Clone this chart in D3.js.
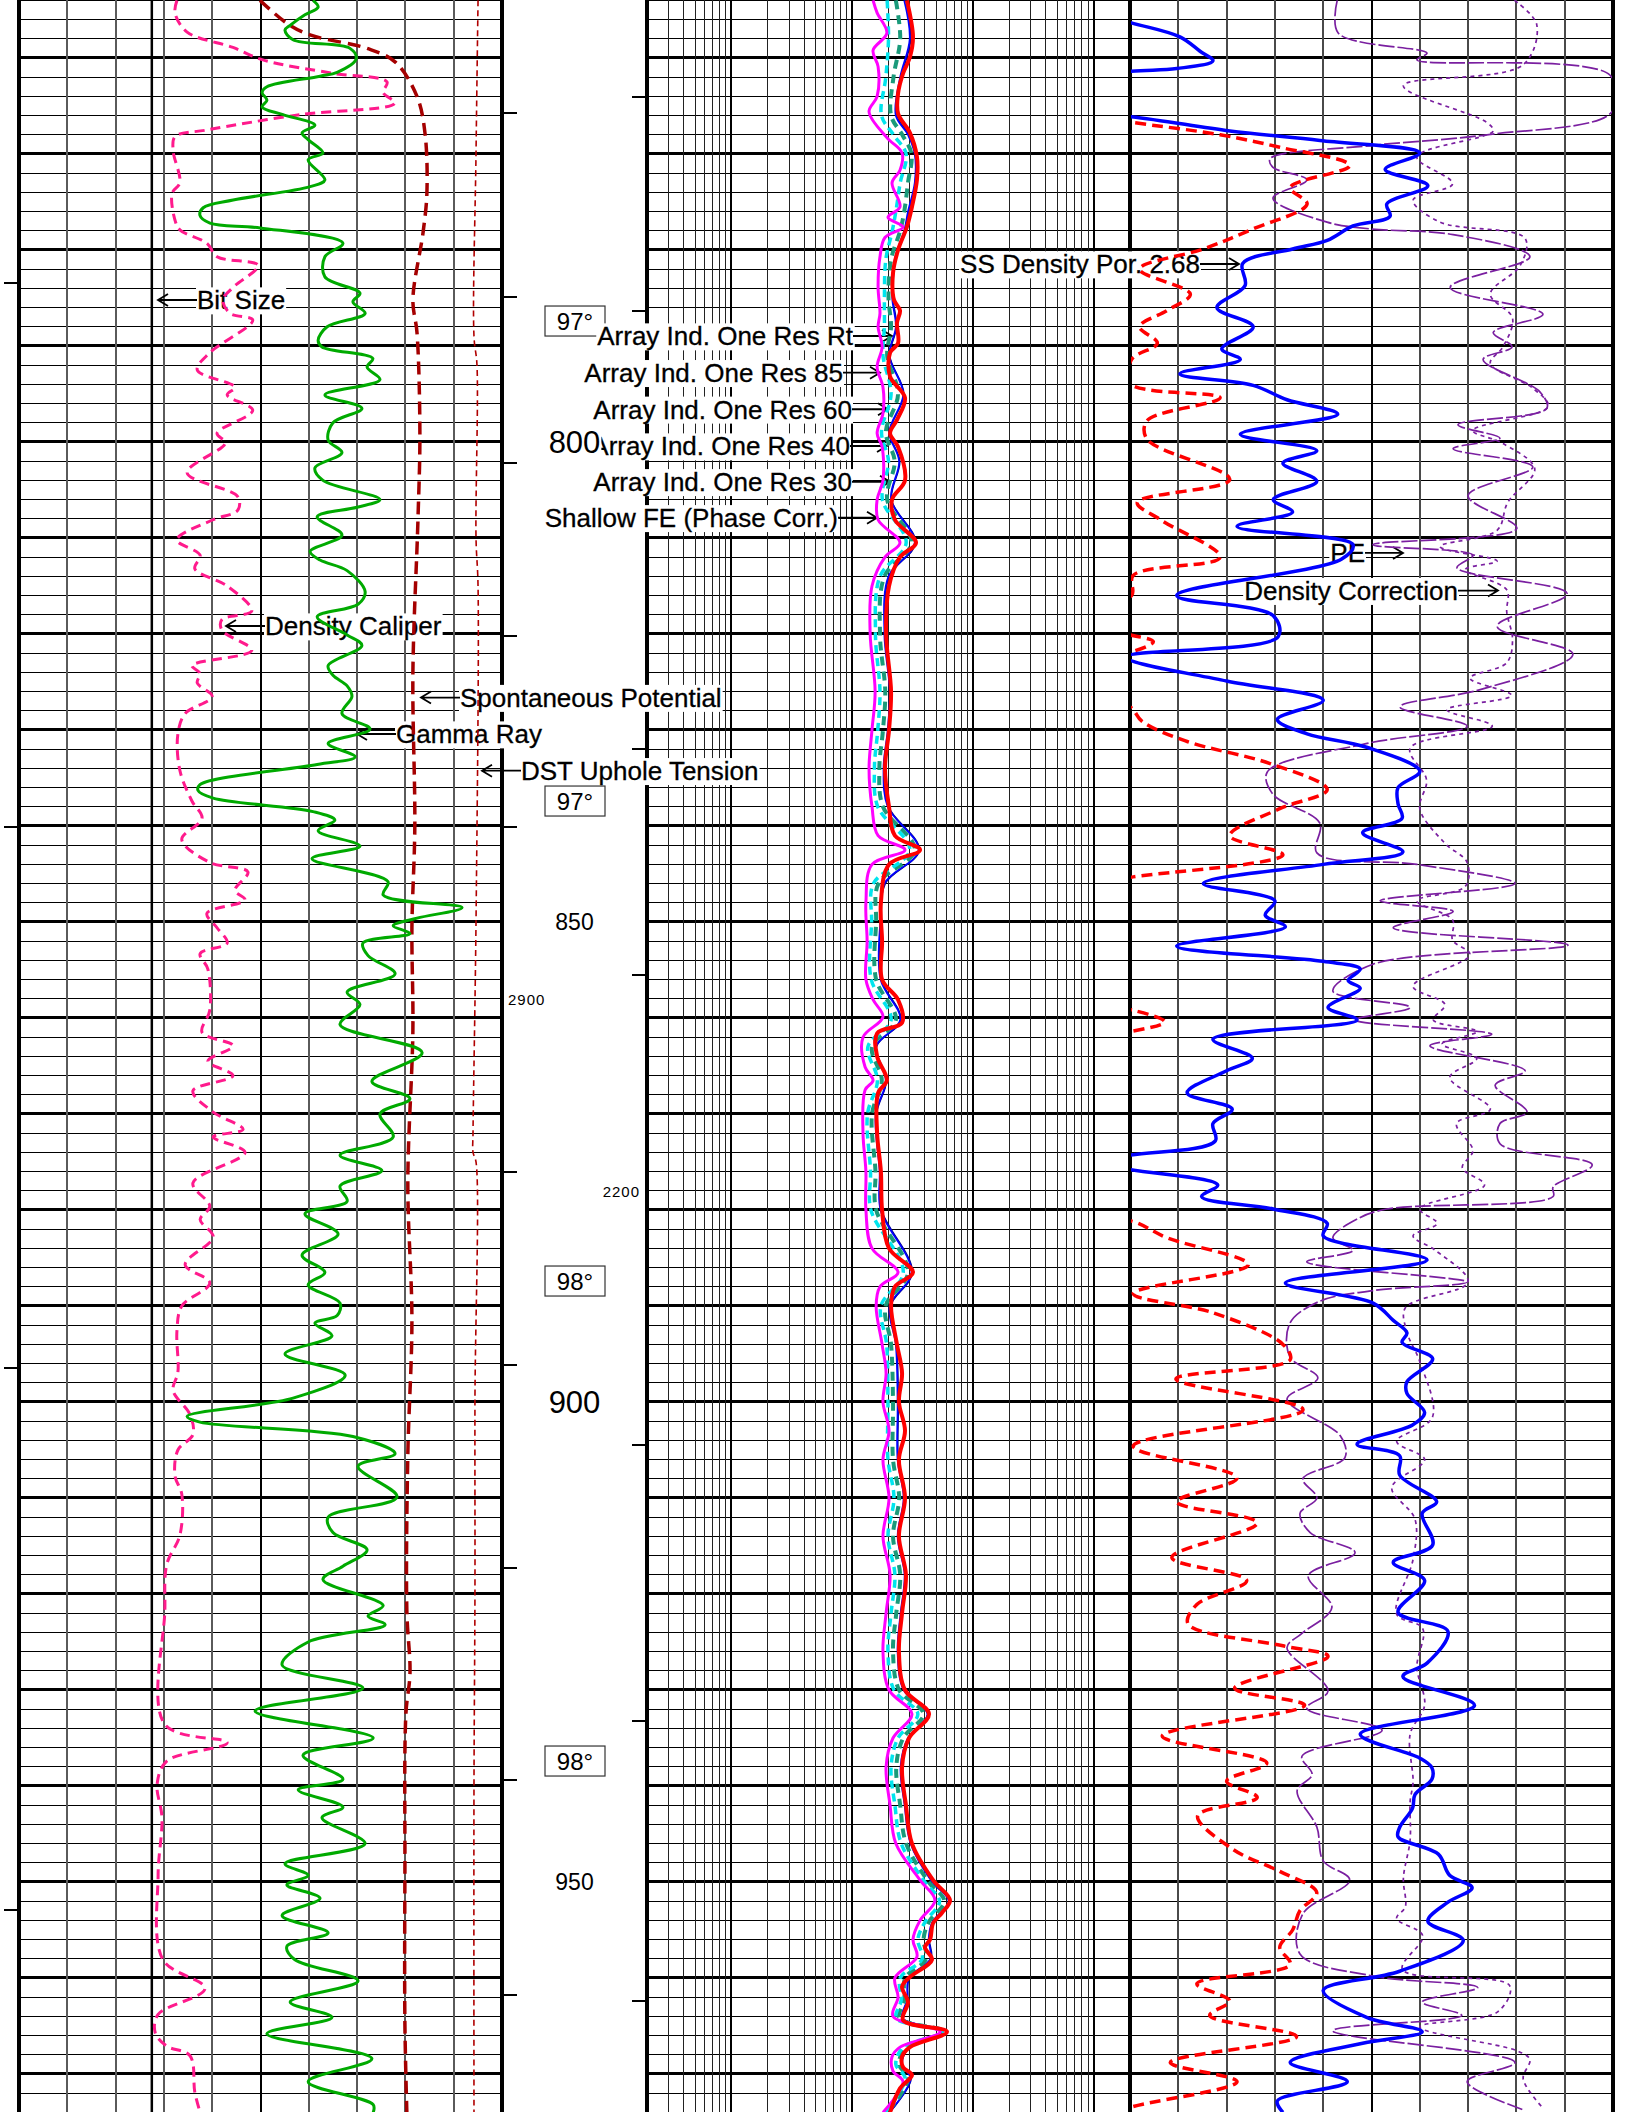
<!DOCTYPE html>
<html>
<head>
<meta charset="utf-8">
<script src="https://cdn.jsdelivr.net/npm/d3@7/dist/d3.min.js"></script>
<style>
  body { margin: 0; background: #fff; }
  text { font-family: "Liberation Sans", Arial, sans-serif; fill: #000; }
</style>
</head>
<body>
<div id="log"></div>
<script>
// depth (ft) / value pairs
const gammaRay = [[754.0,91.3],[754.7,92.9],[755.5,88.8],[756.6,84.2],[757.1,82.6],[758.1,85.1],[759.0,102.8],[760.1,104.7],[761.5,98.8],[761.9,93.5],[763.0,77.0],[763.6,75.5],[764.4,77.0],[765.1,75.5],[765.9,82.0],[767.0,91.9],[767.8,87.9],[768.5,89.8],[769.9,94.4],[770.6,89.8],[772.7,95.0],[773.4,90.4],[774.8,66.5],[775.6,57.2],[776.4,56.2],[777.2,59.3],[777.7,74.9],[779.3,100.6],[780.7,95.0],[782.8,95.0],[784.5,105.9],[785.4,103.7],[786.6,107.5],[788.0,95.7],[789.4,92.9],[790.1,94.1],[791.3,109.9],[792.2,108.1],[793.5,112.1],[795.1,95.0],[796.5,106.5],[798.0,97.5],[799.8,96.0],[801.1,100.3],[802.7,91.9],[804.0,94.4],[806.0,112.1],[806.8,105.0],[807.8,92.6],[809.7,100.3],[811.4,90.4],[812.3,93.5],[813.4,101.9],[815.6,107.5],[816.9,105.3],[818.2,92.6],[820.1,101.9],[821.2,106.5],[823.3,96.0],[824.3,97.5],[825.4,101.9],[826.5,103.4],[828.3,100.3],[829.9,109.0],[831.4,96.0],[832.8,104.4],[833.6,92.6],[835.7,56.2],[836.3,55.6],[837.1,60.3],[838.5,91.3],[839.4,98.1],[840.5,92.9],[842.1,105.9],[843.4,91.0],[845.8,114.6],[847.2,113.1],[848.5,137.6],[849.6,123.6],[850.4,116.2],[851.2,121.4],[852.2,106.8],[853.5,108.4],[855.4,116.8],[857.3,101.9],[858.6,105.9],[860.7,99.7],[863.6,125.2],[866.6,109.6],[868.4,121.4],[870.0,112.1],[872.4,116.2],[874.3,99.7],[875.9,112.7],[877.5,99.7],[879.1,101.9],[880.4,88.8],[882.5,99.1],[884.7,87.9],[886.5,95.0],[887.8,89.8],[889.7,99.7],[891.0,98.8],[891.8,91.9],[893.1,97.2],[895.0,82.6],[897.2,101.3],[899.6,85.1],[901.5,52.2],[902.1,56.2],[903.6,103.7],[905.4,116.8],[906.7,105.3],[909.9,117.4],[912.0,96.0],[913.6,97.5],[915.4,108.1],[917.1,100.6],[918.5,94.4],[921.2,113.1],[922.3,108.4],[923.2,113.7],[925.0,89.8],[927.4,81.7],[929.8,106.8],[932.2,73.3],[935.0,110.0],[936.8,88.2],[939.3,100.6],[940.4,86.7],[942.2,100.6],[943.3,94.1],[946.0,107.5],[948.1,82.6],[949.3,89.8],[950.3,83.2],[951.7,93.5],[953.5,81.7],[955.3,96.0],[956.7,83.2],[958.1,85.7],[960.3,105.3],[962.5,84.2],[964.1,97.2],[965.8,77.0],[968.4,109.6],[970.8,89.8],[973.2,110.0],[974.0,110.0]]

const caliper = [[754.0,9.27],[755.3,9.23],[757.3,9.48],[758.9,10.43],[760.2,11.05],[761.6,12.50],[762.5,13.62],[763.6,13.54],[764.7,13.78],[765.9,11.82],[767.5,9.89],[768.2,9.23],[769.6,9.19],[773.0,9.33],[774.1,9.17],[776.9,9.23],[777.9,9.33],[779.3,9.89],[780.7,10.10],[781.6,10.95],[783.9,10.43],[785.2,10.22],[786.6,10.37],[787.3,10.84],[790.7,9.95],[792.5,9.69],[794.3,10.47],[795.1,10.31],[796.7,10.84],[799.1,10.10],[800.1,10.27],[803.2,9.48],[805.7,10.53],[807.1,10.53],[808.1,10.02],[810.2,9.27],[811.8,9.75],[813.2,9.64],[815.0,10.31],[817.6,10.82],[818.5,10.20],[819.6,10.20],[821.7,10.82],[823.3,9.58],[824.1,9.75],[825.1,9.69],[826.5,10.00],[828.3,9.44],[830.4,9.29],[834.2,9.33],[837.4,9.58],[839.2,9.79],[841.4,9.37],[843.8,9.95],[844.8,10.74],[846.7,10.47],[847.7,10.68],[849.1,9.89],[850.6,10.10],[852.2,10.31],[853.3,9.75],[854.9,9.91],[859.2,9.95],[861.5,9.79],[862.9,10.43],[864.5,9.91],[866.0,10.43],[867.6,9.60],[869.8,10.02],[871.6,10.64],[872.4,10.02],[874.0,10.68],[877.2,9.60],[879.6,9.95],[881.0,9.75],[882.8,10.02],[885.7,9.44],[887.6,9.95],[890.0,9.37],[892.6,9.27],[896.9,9.29],[898.8,9.19],[901.3,9.54],[903.4,9.60],[905.0,9.29],[907.7,9.23],[909.6,9.37],[913.9,9.33],[916.9,9.06],[921.7,9.02],[933.6,9.02],[935.5,10.31],[937.4,9.06],[939.8,8.86],[943.3,8.96],[949.3,8.88],[958.1,8.98],[961.1,9.85],[963.8,8.88],[965.7,8.82],[967.1,9.06],[968.1,9.54],[971.9,9.64],[974.0,9.75]]

const bitSize = [[754, 8.75], [974, 8.75]]

const spontPot = [[754.0,-100.2],[756.4,-89.0],[757.6,-79.5],[759.0,-55.9],[760.4,-44.3],[764.0,-35.2],[767.8,-31.9],[774.1,-31.1],[778.2,-32.7],[785.2,-36.9],[788.6,-35.2],[799.1,-34.0],[808.1,-34.8],[824.1,-36.9],[840.0,-36.1],[850.6,-37.3],[861.3,-36.9],[877.2,-39.0],[891.5,-37.3],[905.5,-39.0],[921.8,-39.4],[928.2,-38.1],[932.5,-39.8],[948.7,-40.2],[964.9,-40.2],[974.0,-39.4]]

const tension = [[754,4752],[770,4731],[789,4710],[792,4741],[810,4731],[815,4752],[850,4731],[872,4700],[874,4700],[875,4731],[900,4720],[920,4720],[940,4710],[974,4710]]

// resistivity, ohm-m
const resRt = [[754.0,28.4],[757.8,31.9],[759.9,30.1],[761.6,26.4],[763.7,24.0],[765.8,24.0],[767.8,30.1],[770.3,34.4],[772.7,34.4],[775.5,31.3],[777.6,28.4],[780.0,24.0],[782.4,21.8],[785.2,22.2],[786.3,24.9],[787.6,23.5],[789.7,24.0],[790.7,20.6],[793.2,20.6],[795.4,27.4],[797.7,23.5],[799.1,20.6],[800.5,24.0],[804.0,27.4],[806.0,21.4],[808.1,22.6],[810.5,33.8],[812.0,24.9],[815.0,20.2],[820.0,19.1],[826.0,21.0],[830.0,20.2],[834.0,18.7],[838.0,20.2],[841.0,22.6],[842.5,36.5],[844.0,20.2],[848.0,17.3],[852.0,17.7],[856.0,17.7],[858.1,24.0],[860.5,25.9],[861.6,16.1],[864.0,16.1],[866.5,19.4],[867.8,16.4],[872.0,16.1],[876.0,17.3],[880.0,17.7],[884.0,20.2],[886.5,31.9],[888.0,22.6],[890.0,21.0],[894.0,23.5],[897.0,25.9],[900.0,24.4],[903.0,27.4],[906.0,24.4],[910.0,27.4],[914.0,24.4],[918.0,27.9],[922.0,25.9],[926.0,24.4],[930.0,27.4],[932.5,43.3],[935.0,29.6],[938.0,25.9],[942.0,27.9],[946.0,31.3],[949.8,46.8],[951.9,64.6],[953.2,55.5],[954.3,46.8],[956.0,44.2],[956.8,40.1],[958.1,45.8],[959.9,30.1],[960.9,25.9],[962.5,29.0],[964.4,26.4],[965.6,61.0],[967.2,30.1],[968.2,25.9],[969.3,26.4],[970.1,31.3],[971.5,24.9],[974.0,20.6]]

const resShallowFE = [[754.0,14.9],[755.3,16.1],[757.4,19.4],[759.2,14.9],[760.9,16.4],[764.0,16.1],[765.6,13.8],[768.3,19.4],[769.9,25.9],[771.7,24.9],[773.0,21.4],[775.5,24.9],[776.6,19.8],[777.6,26.4],[778.7,18.7],[780.7,17.0],[783.9,16.4],[786.6,17.0],[788.0,16.4],[790.1,17.7],[792.2,16.1],[794.3,18.0],[797.0,18.0],[799.1,16.1],[800.5,17.7],[804.0,18.0],[806.0,16.1],[808.1,16.4],[810.5,24.9],[812.0,18.7],[815.0,14.6],[820.0,14.1],[826.0,15.5],[830.0,14.6],[834.0,13.8],[838.0,14.6],[841.0,16.4],[842.5,27.4],[844.0,14.6],[848.0,13.0],[852.0,13.3],[856.0,13.0],[858.1,14.9],[859.9,18.0],[862.0,12.3],[865.1,12.8],[866.5,14.9],[867.5,12.8],[872.0,12.3],[876.0,13.0],[880.0,13.0],[884.0,14.6],[886.5,24.0],[888.0,17.0],[890.0,15.8],[894.0,17.7],[897.0,19.1],[900.0,18.0],[903.0,20.2],[906.0,18.0],[910.0,20.2],[914.0,18.0],[918.0,20.6],[922.0,19.1],[926.0,18.0],[930.0,20.2],[932.5,31.3],[935.0,21.8],[938.0,19.1],[942.0,20.6],[946.0,23.0],[949.8,36.5],[951.9,48.5],[954.0,36.5],[956.0,31.9],[957.8,34.4],[960.0,22.6],[962.0,24.0],[964.0,21.8],[965.6,53.5],[967.2,24.9],[968.2,21.4],[969.7,21.8],[970.8,26.4],[974.0,18.0]]

const resDepths = [754,758,762,766,768,770,773,776,778,781,785,788,791,795,799,802,806,810.5,814,820,826,830,834,838,842.5,846,850,856,860.2,863,866.5,870,876,880,886.5,890,894,900,906,910,914,918,922,926,930,932.5,935,938,942,946,950,952,954.2,956,958,960,962.3,964.2,965.6,967.2,969,970.5,974]
const res30 = [19.5,20,19,17.5,22,28,25,23,21.5,19,18.5,18.5,18,21,17.5,20,17.8,28,17,15.6,17,16.3,15.3,16.3,30,15,14.5,14.4,21,13.5,16.2,13.4,14.2,14.3,26.5,17.3,19.3,19.8,19.8,22.2,19.8,22.6,21,19.8,22.2,35,24,21,22.6,25.5,40,53,40,35,38,25,25.5,23.2,56,26.5,23,27.5,18.8]
const res40 = [23,25,22,21,26,31,29,27,25,21,20,21,19.5,24,19,22.5,19.5,31,18.5,17,18.8,18,16.8,18,33,16.5,15.8,15.8,23,14.6,17.6,14.6,15.6,15.8,29,18.9,21,21.8,21.8,24.5,21.8,25,23.2,21.8,24.5,39,26.5,23.2,25,28,43,58,43,39,41,27.5,27,24.6,58.5,28,24.5,29,19.6]
const res60 = [27,30,25,23,29,33,33,29,27,22.5,21.5,23,20.3,26.5,20.3,24.5,21,33,20,18.5,20.5,19.7,18.2,19.7,35.5,18.5,17.1,17.2,25,15.7,19,15.7,16.9,17.2,31,20.5,23,23.8,23.8,26.7,23.8,27.2,25.2,23.8,26.7,42,29,25.2,27.2,30.5,46,63,46,43,44.5,29.5,28.5,26,60.5,29.6,25.8,30.5,20.3]
const res85 = [27.8,30.6,25.6,23.6,29.6,33.6,33.6,29.6,27.6,22.8,21.8,23.3,20.5,26.8,20.5,24.8,21.2,33.5,20.3,18.8,20.8,20,18.5,20,36,18.8,17.3,17.5,25.3,15.9,19.2,15.9,17.1,17.5,31.5,20.8,23.3,24.1,24.1,27,24.1,27.5,25.5,24.1,27,42.6,29.3,25.5,27.5,30.9,46.5,63.8,46.4,43.6,45.1,29.8,28.7,26.2,60.8,29.9,26,30.8,20.5]

// porosity (v/v), scale 0.45 .. -0.15
const densityPor = [[754.0,0.55],[756.3,0.450],[757.8,0.388],[759.3,0.363],[760.3,0.347],[761.1,0.392],[761.4,0.450],[762.5,0.55],[765.5,0.55],[766.1,0.450],[767.6,0.326],[768.6,0.214],[769.9,0.090],[771.6,0.133],[773.3,0.080],[775.2,0.131],[776.5,0.127],[777.5,0.173],[779.0,0.205],[779.9,0.248],[781.4,0.310],[783.7,0.307],[786.0,0.342],[788.0,0.297],[790.3,0.336],[791.4,0.313],[792.9,0.388],[794.1,0.297],[795.6,0.255],[797.1,0.192],[799.2,0.313],[800.9,0.218],[802.2,0.260],[804.1,0.218],[806.0,0.272],[807.3,0.248],[808.8,0.317],[810.7,0.173],[812.2,0.187],[816.0,0.392],[818.1,0.272],[820.3,0.266],[822.4,0.455],[824.9,0.330],[826.9,0.210],[828.9,0.267],[830.4,0.230],[831.8,0.156],[834.3,0.090],[836.0,0.117],[837.7,0.117],[839.2,0.112],[840.7,0.161],[842.7,0.111],[844.0,0.210],[846.0,0.359],[847.8,0.270],[849.3,0.282],[850.5,0.257],[852.5,0.392],[854.1,0.210],[854.9,0.164],[856.1,0.179],[856.9,0.164],[858.9,0.204],[860.2,0.168],[862.2,0.347],[864.2,0.298],[865.5,0.330],[867.8,0.379],[869.5,0.323],[871.0,0.347],[872.8,0.344],[874.3,0.450],[875.0,0.50],[875.8,0.450],[877.4,0.341],[878.6,0.361],[879.9,0.272],[881.4,0.205],[882.7,0.210],[885.2,0.081],[887.6,0.257],[889.7,0.148],[891.5,0.123],[892.8,0.106],[893.8,0.112],[895.5,0.074],[897.9,0.106],[899.1,0.106],[901.1,0.084],[902.4,0.099],[904.4,0.168],[905.6,0.115],[907.6,0.115],[910.4,0.069],[911.6,0.087],[914.9,0.074],[916.7,0.123],[918.6,0.084],[921.9,0.117],[923.9,0.055],[927.2,0.081],[928.6,0.111],[931.6,0.022],[934.6,0.164],[937.1,0.090],[938.1,0.075],[939.3,0.075],[940.9,0.096],[942.3,0.099],[944.3,0.115],[945.3,0.117],[947.1,0.067],[949.3,0.053],[950.6,0.025],[952.1,0.055],[954.1,0.080],[956.1,0.036],[959.3,0.115],[961.3,0.210],[964.1,0.156],[965.6,0.087],[966.8,0.161],[968.8,0.251],[970.8,0.180],[972.8,0.267],[974.0,0.260]]

const neutronPor = [[754.0,0.55],[766.0,0.50],[766.7,0.448],[768.0,0.338],[769.3,0.264],[771.2,0.177],[773.5,0.251],[775.2,0.230],[777.8,0.297],[779.9,0.359],[782.0,0.438],[784.6,0.375],[786.3,0.404],[788.0,0.438],[789.7,0.416],[791.4,0.448],[793.9,0.450],[795.4,0.338],[797.8,0.429],[799.7,0.429],[803.9,0.326],[806.3,0.441],[808.2,0.410],[812.0,0.338],[813.9,0.446],[816.0,0.448],[817.0,0.50],[819.5,0.50],[820.1,0.450],[820.8,0.421],[821.8,0.446],[822.5,0.50],[827.0,0.50],[827.6,0.450],[829.1,0.435],[831.2,0.379],[833.5,0.276],[836.2,0.205],[838.2,0.264],[841.0,0.326],[843.0,0.260],[845.3,0.446],[846.0,0.50],[858.5,0.50],[859.2,0.446],[860.4,0.407],[861.4,0.448],[862.0,0.50],[880.5,0.50],[881.2,0.446],[882.9,0.404],[885.7,0.303],[888.7,0.446],[890.7,0.347],[894.0,0.260],[895.6,0.251],[897.6,0.393],[900.8,0.235],[904.6,0.446],[907.9,0.317],[910.4,0.392],[912.6,0.292],[916.2,0.398],[918.6,0.305],[921.1,0.367],[923.1,0.378],[925.4,0.260],[926.5,0.204],[929.8,0.320],[931.6,0.233],[934.8,0.410],[937.6,0.280],[939.5,0.330],[941.2,0.292],[943.1,0.366],[946.6,0.322],[948.9,0.264],[951.1,0.218],[953.0,0.239],[955.0,0.248],[956.8,0.264],[958.6,0.251],[960.6,0.367],[962.4,0.326],[963.9,0.351],[966.1,0.243],[968.8,0.400],[970.8,0.317],[973.5,0.450],[974.0,0.46]]

// photoelectric factor, b/e, scale 0 .. 10
const photoElec = [[754.0,4.29],[757.4,4.31],[759.5,6.15],[760.2,5.94],[761.8,9.94],[765.6,9.98],[768.0,7.39],[769.1,5.03],[770.5,2.90],[771.4,2.96],[772.7,3.66],[774.6,2.96],[777.1,4.08],[777.8,4.97],[778.4,6.69],[780.7,8.28],[783.9,6.63],[786.7,8.55],[788.6,7.52],[790.1,7.91],[791.4,7.31],[794.8,8.49],[796.5,8.63],[798.2,6.79],[799.6,7.66],[800.7,6.69],[802.6,8.34],[805.6,7.00],[809.0,8.01],[810.7,5.03],[811.8,7.10],[813.1,6.77],[815.8,9.05],[819.2,7.60],[822.1,9.17],[825.8,7.25],[827.6,5.59],[829.6,6.98],[831.4,4.91],[834.4,2.84],[836.7,2.96],[839.7,3.93],[842.8,3.87],[844.0,5.94],[846.0,7.97],[847.8,5.18],[848.9,6.69],[850.6,5.45],[852.4,9.07],[854.4,5.03],[857.2,4.20],[858.9,5.80],[860.2,4.66],[861.7,7.49],[862.9,6.21],[865.5,8.18],[867.0,7.56],[869.8,8.22],[871.0,7.66],[873.1,7.66],[875.3,9.57],[877.6,8.76],[878.6,8.76],[879.9,5.32],[880.9,4.72],[882.9,4.20],[884.2,4.62],[885.4,3.66],[887.5,6.98],[888.4,5.03],[889.5,3.93],[891.8,3.31],[895.3,3.31],[897.5,3.89],[899.7,3.25],[903.5,4.35],[905.8,4.45],[908.0,3.58],[910.0,3.87],[911.6,3.52],[913.6,3.73],[915.7,4.66],[918.1,3.69],[921.4,4.18],[924.1,3.56],[925.6,3.25],[930.1,4.10],[931.9,3.66],[934.2,5.22],[936.9,3.56],[938.8,3.77],[940.5,3.46],[944.3,3.87],[947.8,4.00],[949.8,4.55],[953.3,3.58],[957.5,3.52],[959.8,5.03],[961.0,7.20],[962.5,6.05],[963.9,6.87],[965.5,4.20],[968.8,7.97],[970.8,6.98],[973.8,8.18]]

// density correction, g/cc, scale -0.25 .. 0.25
const densityCorr = [[754.0,0.148],[756.5,0.171],[760.7,0.157],[762.9,0.033],[766.7,0.119],[767.6,0.126],[770.3,0.047],[773.1,0.084],[774.8,0.043],[777.1,0.071],[778.8,0.159],[781.6,0.154],[784.6,0.123],[787.1,0.146],[790.1,0.136],[791.8,0.123],[794.4,0.167],[796.3,0.183],[798.8,0.105],[800.1,0.135],[802.8,0.169],[806.3,0.141],[809.2,0.130],[810.9,0.071],[812.4,0.130],[813.3,0.097],[815.4,0.140],[817.7,0.140],[820.6,0.146],[823.0,0.140],[824.6,0.102],[826.4,0.145],[827.9,0.078],[829.6,0.125],[831.9,0.040],[835.2,0.057],[838.2,0.050],[841.8,0.076],[843.8,0.099],[846.3,0.097],[847.8,0.047],[849.8,0.084],[851.9,0.084],[853.4,0.102],[856.7,0.043],[858.6,0.076],[860.2,0.064],[861.4,0.109],[862.7,0.073],[864.2,0.109],[866.2,0.081],[869.5,0.123],[871.0,0.088],[873.8,0.105],[875.6,0.094],[877.4,0.117],[879.9,0.050],[881.4,0.068],[882.7,0.043],[884.2,0.066],[887.5,0.100],[890.2,0.035],[892.8,0.037],[895.8,0.050],[901.6,0.063],[904.1,0.026],[906.0,0.055],[908.9,0.021],[912.2,0.045],[916.4,0.043],[922.1,0.026],[923.6,0.053],[927.6,0.047],[931.6,0.055],[934.6,0.040],[939.6,0.043],[941.6,0.040],[945.6,0.040],[949.6,0.033],[952.6,0.035],[953.8,0.026],[955.6,0.053],[959.1,0.032],[960.8,0.143],[963.5,0.131],[965.1,0.050],[967.6,0.151],[968.5,0.164],[970.5,0.157],[973.5,0.177]]

// annotations
const depthLabels = [800, 850, 900, 950]
const tempDepths = [787.4, 837.4, 887.4, 937.4]
const tempLabels = ["97°", "97°", "98°", "98°"]
const farLeftTicks = [783.4, 840.1, 896.5, 952.9]
const leftEdgeTicks = [765.7, 784.9, 802.2, 820.2, 840.1, 876.0, 896.1, 917.3, 939.4, 961.8]
const resEdgeTicks = [764.1, 786.4, 807.9, 832.0, 855.5, 904.5, 933.2, 962.4]

const W = 1632, H = 2112
const y = d3.scaleLinear().domain([753.96, 973.96]).range([0, H])

const grX = d3.scaleLinear().domain([0, 150]).range([19, 502])
const calX = d3.scaleLinear().domain([6, 16]).range([19, 502])
const spX = d3.scaleLinear().domain([-200, 0]).range([19, 502])
const tenX = d3.scaleLinear().domain([0, 5000]).range([19, 502])
const resX = d3.scaleLog().domain([0.2, 2000]).range([647, 1130])
const porX = d3.scaleLinear().domain([0.45, -0.15]).range([1130, 1613])
const peX = d3.scaleLinear().domain([0, 10]).range([1130, 1613])
const dcX = d3.scaleLinear().domain([-0.25, 0.25]).range([1130, 1613])

const svg = d3.select("#log").append("svg")
  .attr("width", W)
  .attr("height", H)

const defs = svg.append("defs")
function clipTo(id, x0, x1) {
  defs.append("clipPath").attr("id", id)
    .append("rect").attr("x", x0).attr("y", 0).attr("width", x1 - x0).attr("height", H)
  return "url(#" + id + ")"
}
const clipLeft = clipTo("clipLeft", 20, 501)
const clipRes = clipTo("clipRes", 648, 1129)
const clipRight = clipTo("clipRight", 1131, 1612)

// grid
const grid = svg.append("g").attr("shape-rendering", "crispEdges")
const depthLines = d3.range(754, 974, 2)

function hLines(x0, x1) {
  grid.append("g").selectAll("line").data(depthLines).join("line")
    .attr("x1", x0).attr("x2", x1)
    .attr("y1", (d) => { return y(d) }).attr("y2", (d) => { return y(d) })
    .attr("stroke", "#000")
    .attr("stroke-width", (d) => { return d % 10 === 0 ? 3 : 1 })
}
hLines(19, 502)
hLines(647, 1613)

function vLines(xs, stroke, width) {
  grid.append("g").selectAll("line").data(xs).join("line")
    .attr("x1", (d) => { return d }).attr("x2", (d) => { return d })
    .attr("y1", 0).attr("y2", H)
    .attr("stroke", stroke).attr("stroke-width", width)
}
const linSteps = d3.range(1, 10)
vLines(linSteps.filter((i) => { return i !== 5 }).map((i) => { return grX(i * 15) }), "#5a5a5a", 2)
vLines([grX(75)], "#000", 2)
vLines(linSteps.filter((i) => { return i !== 5 }).map((i) => { return peX(i) }), "#4a4a4a", 2)
vLines([peX(5)], "#000", 2)

const resTicks = resX.ticks().filter((v) => { return v > 0.2 && v < 2000 })
const isDecade = (v) => { return Math.abs(Math.log10(v) - Math.round(Math.log10(v))) < 1e-6 }
vLines(resTicks.filter((v) => { return !isDecade(v) }).map(resX), "#222", 1)
vLines(resTicks.filter(isDecade).map(resX), "#000", 2)

// track borders
vLines([19, 502, 647, 1130, 1613], "#000", 4)

// edge ticks
function edgeTicks(depths, x0, x1) {
  grid.append("g").selectAll("line").data(depths).join("line")
    .attr("x1", x0).attr("x2", x1)
    .attr("y1", (d) => { return y(d) }).attr("y2", (d) => { return y(d) })
    .attr("stroke", "#000").attr("stroke-width", 2)
}
edgeTicks(farLeftTicks, 4, 19)
edgeTicks(leftEdgeTicks, 502, 517)
edgeTicks(resEdgeTicks, 632, 647)

// small numbers in depth column
svg.append("text").attr("x", 508).attr("y", y(858.1)).attr("dy", "0.35em")
  .attr("font-size", 15).attr("letter-spacing", 1).text("2900")
svg.append("text").attr("x", 640).attr("y", y(878.1)).attr("dy", "0.35em")
  .attr("font-size", 15).attr("letter-spacing", 1).attr("text-anchor", "end").text("2200")

// temperature boxes
const temps = svg.append("g")
tempDepths.forEach((d, i) => {
  temps.append("rect").attr("x", 545).attr("y", y(d) - 15).attr("width", 60).attr("height", 30)
    .attr("fill", "#fff").attr("stroke", "#333").attr("stroke-width", 1.2)
  temps.append("text").attr("x", 575).attr("y", y(d)).attr("dy", "0.36em")
    .attr("text-anchor", "middle").attr("font-size", 24).text(tempLabels[i])
})

// curve labels with arrows
function backed(g, t) {
  const b = t.node().getBBox()
  g.insert("rect", "text")
    .attr("x", b.x - 1).attr("y", b.y + 2).attr("width", b.width + 2).attr("height", b.height - 3)
    .attr("fill", "#fff")
}
function arrow(g, xFrom, xTip, yy) {
  const dir = xTip > xFrom ? -1 : 1
  g.append("path")
    .attr("d", "M" + xFrom + "," + yy + "H" + xTip + "M" + (xTip + dir * 10) + "," + (yy - 6) +
      "L" + xTip + "," + yy + "L" + (xTip + dir * 10) + "," + (yy + 6))
    .attr("fill", "none").attr("stroke", "#000").attr("stroke-width", 1.8)
}
function labelLeft(text, d, tip) {
  const g = svg.append("g")
  const yy = y(d)
  const t = g.append("text").attr("x", tip + 39).attr("y", yy).attr("dy", "0.36em")
    .attr("font-size", 26).attr("stroke", "#000").attr("stroke-width", 0.3).text(text)
  backed(g, t)
  arrow(g, tip + 39, tip, yy)
}
function labelRight(text, d, end, tip) {
  const g = svg.append("g")
  const yy = y(d)
  const t = g.append("text").attr("x", end).attr("y", yy).attr("dy", "0.36em")
    .attr("text-anchor", "end").attr("font-size", 26).attr("stroke", "#000").attr("stroke-width", 0.3).text(text)
  backed(g, t)
  arrow(g, end, tip, yy)
}

labelLeft("Bit Size", 785.21, 158)
labelLeft("Density Caliper", 819.17, 226)
labelLeft("Spontaneous Potential", 826.62, 421)
labelLeft("Gamma Ray", 830.42, 357)
labelLeft("DST Uphole Tension", 834.24, 482)

labelRight("Array Ind. One Res Rt", 788.96, 853, 892)
labelRight("Array Ind. One Res 85", 792.78, 843, 880)
labelRight("Array Ind. One Res 60", 796.59, 852, 888)
labelRight("Array Ind. One Res 40", 800.42, 850, 887)
labelRight("Array Ind. One Res 30", 804.14, 852, 890)
labelRight("Shallow FE (Phase Corr.)", 807.89, 838, 877)
labelRight("SS Density Por. 2.68", 781.46, 1200, 1239)
labelRight("PE", 811.56, 1365, 1403)
labelRight("Density Correction", 815.48, 1458, 1498)

// depth numbers
depthLabels.forEach((d) => {
  const g = svg.append("g")
  const big = d % 100 === 0
  const t = g.append("text").attr("x", 574.5).attr("y", y(d)).attr("dy", "0.36em")
    .attr("text-anchor", "middle").attr("font-size", big ? 31 : 23).text(d)
  backed(g, t)
})

// curves
function curve(data, xs, clip, color, width, dash) {
  const line = d3.line()
    .curve(d3.curveCatmullRom.alpha(0.5))
    .x((d) => { return xs(d[1]) })
    .y((d) => { return y(d[0]) })
  svg.append("path")
    .attr("clip-path", clip)
    .attr("d", line(data))
    .attr("fill", "none")
    .attr("stroke", color)
    .attr("stroke-width", width)
    .attr("stroke-dasharray", dash || null)
    .attr("stroke-linejoin", "round")
}
const zipRes = (vals) => { return resDepths.map((d, i) => { return [d, vals[i]] }) }

curve(bitSize, calX, clipLeft, "#000", 2.5)
curve(tension, tenX, clipLeft, "#b00000", 1.6, "6,4")
curve(spontPot, spX, clipLeft, "#a50000", 3.5, "13,7")
curve(caliper, calX, clipLeft, "#ff1a8c", 3, "10,6")
curve(gammaRay, grX, clipLeft, "#00aa00", 3)

curve(zipRes(res85), resX, clipRes, "#000080", 1.5)
curve(zipRes(res60), resX, clipRes, "#0000ff", 1.8)
curve(zipRes(res40), resX, clipRes, "#1a9a7a", 4, "9,6")
curve(zipRes(res30), resX, clipRes, "#00e5ee", 3.5, "8,5")
curve(resShallowFE, resX, clipRes, "#ff00ff", 3)
curve(resRt, resX, clipRes, "#ff0000", 4)

curve(densityCorr, dcX, clipRight, "#7a1fa0", 1.7, "4,4")
curve(photoElec, peX, clipRight, "#7a1fa0", 1.7, "16,3")
curve(neutronPor, porX, clipRight, "#ff0000", 3.5, "11,6")
curve(densityPor, porX, clipRight, "#0000ff", 3.5)
</script>
</body>
</html>
